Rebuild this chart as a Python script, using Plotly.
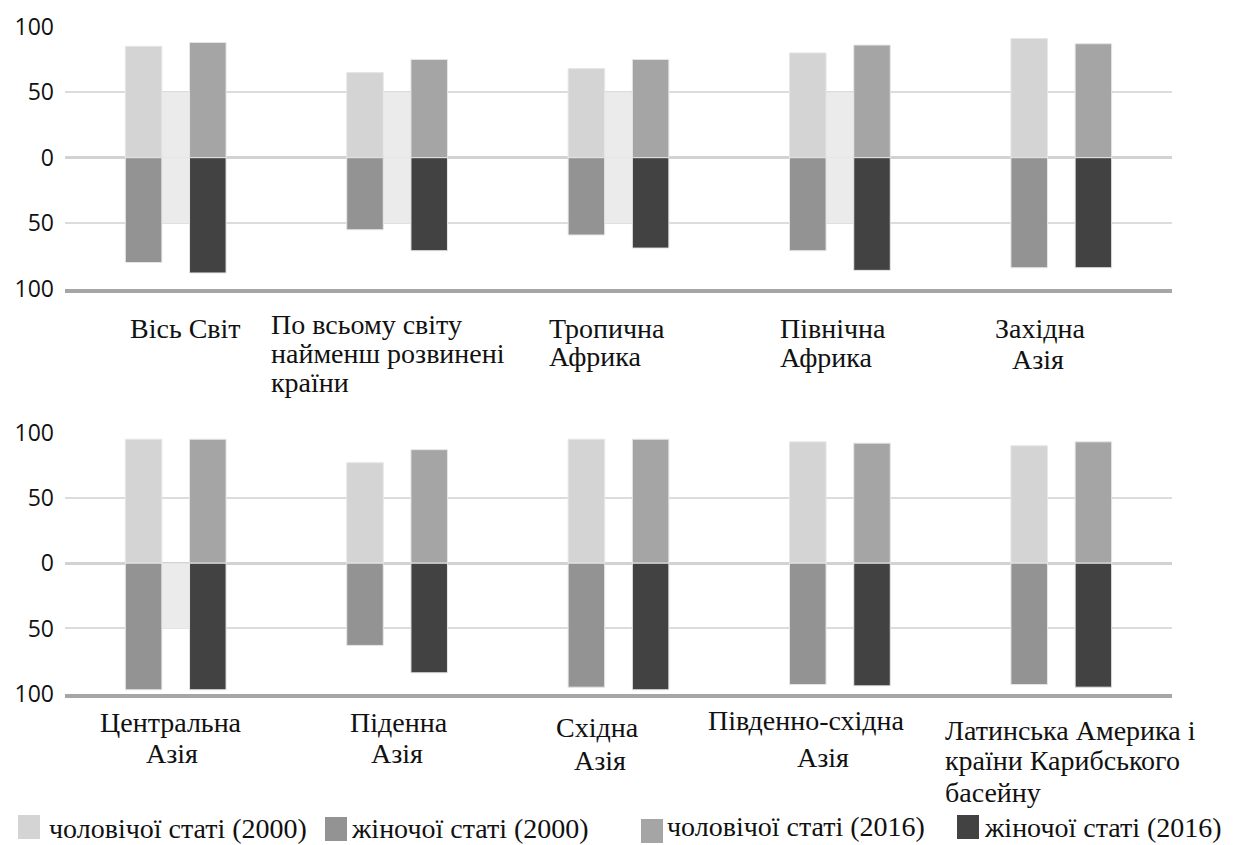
import plotly.graph_objects as go

# --- data -------------------------------------------------------------
regions_top = ["Вісь Світ", "По всьому світу найменш розвинені країни",
               "Тропична Африка", "Північна Африка", "Західна Азія"]
regions_bottom = ["Центральна Азія", "Піденна Азія", "Східна Азія",
                  "Південно-східна Азія", "Латинська Америка і країни Карибського басейну"]

series_names = ["чоловічої статі (2000)", "жіночої статі (2000)",
                "чоловічої статі (2016)", "жіночої статі (2016)"]

male_2000_top = [85, 65, 68, 80, 91]
female_2000_top = [80, 55, 59, 71, 84]
male_2016_top = [88, 75, 75, 86, 87]
female_2016_top = [88, 71, 69, 86, 84]

male_2000_bottom = [95, 77, 95, 93, 90]
female_2000_bottom = [97, 63, 95, 93, 93]
male_2016_bottom = [95, 87, 95, 92, 93]
female_2016_bottom = [97, 84, 97, 94, 95]

# light shading between the paired bars
shade_up_top = [50, 50, 50, 50, 0]
shade_down_top = [50, 50, 50, 50, 0]
shade_up_bottom = [0, 0, 0, 0, 0]
shade_down_bottom = [50, 0, 0, 0, 0]

tick_vals = [-100, -50, 0, 50, 100]
tick_text = ["100", "50", "0", "50", "100"]

# --- styling ----------------------------------------------------------
W, H = 1235, 845
colors = ["#d4d4d4", "#939393", "#a5a5a5", "#424242"]
shade_color = "#ebebeb"
bar_w = 0.165
bar_off = 0.145
serif = "Liberation Serif"
sans = "Open Sans"


def px(x):
    return x / W


def py(y):
    return 1 - y / H


fig = go.Figure()


def add_panel(cats, m00, f00, m16, f16, sh_up, sh_dn, xa, ya):
    common = dict(xaxis=xa, yaxis=ya, showlegend=False, hoverinfo="skip")
    fig.add_bar(x=cats, y=sh_up, width=0.125, offset=-0.0625,
                marker=dict(color=shade_color, line=dict(width=0)), **common)
    fig.add_bar(x=cats, y=[-v for v in sh_dn], width=0.125, offset=-0.0625,
                marker=dict(color=shade_color, line=dict(width=0)), **common)
    line = dict(color="#e6e6e6", width=1)
    fig.add_bar(x=cats, y=m00, width=bar_w, offset=-bar_off - bar_w / 2,
                marker=dict(color=colors[0], line=line), name=series_names[0], **common)
    fig.add_bar(x=cats, y=[-v for v in f00], width=bar_w, offset=-bar_off - bar_w / 2,
                marker=dict(color=colors[1], line=line), name=series_names[1], **common)
    fig.add_bar(x=cats, y=m16, width=bar_w, offset=bar_off - bar_w / 2,
                marker=dict(color=colors[2], line=line), name=series_names[2], **common)
    fig.add_bar(x=cats, y=[-v for v in f16], width=bar_w, offset=bar_off - bar_w / 2,
                marker=dict(color=colors[3], line=line), name=series_names[3], **common)


add_panel(regions_top, male_2000_top, female_2000_top, male_2016_top, female_2016_top,
          shade_up_top, shade_down_top, "x", "y")
add_panel(regions_bottom, male_2000_bottom, female_2000_bottom, male_2016_bottom,
          female_2016_bottom, shade_up_bottom, shade_down_bottom, "x2", "y2")

xdom = [px(65), px(1172)]
xaxis_style = dict(domain=xdom, type="category", range=[-0.5, 4.5], showticklabels=False,
                   showgrid=False, zeroline=False, showline=True, linecolor="#a6a6a6",
                   linewidth=4, ticks="", fixedrange=True, automargin=False)
yaxis_style = dict(range=[-100, 100], tickvals=tick_vals, ticktext=tick_text,
                   showgrid=True, gridcolor="#dcdcdc", gridwidth=2,
                   zeroline=True, zerolinecolor="#d2d2d2", zerolinewidth=3,
                   showline=False, ticks="", ticklabelstandoff=10, automargin=False,
                   tickfont=dict(family=sans, size=23, color="#111111"))

fig.update_layout(
    width=W, height=H,
    margin=dict(l=0, r=0, t=0, b=0, autoexpand=False),
    paper_bgcolor="white", plot_bgcolor="white",
    barmode="overlay",
    xaxis=dict(anchor="y", **xaxis_style),
    yaxis=dict(anchor="x", domain=[py(288.7), py(26.7)], **yaxis_style),
    xaxis2=dict(anchor="y2", **xaxis_style),
    yaxis2=dict(anchor="x2", domain=[py(693.7), py(432.7)], **yaxis_style),
)

# --- category labels (one entry per text line) -------------------------
label_font = dict(family=serif, size=28, color="#111111")
label_lines = [
    ("Вісь Світ", 185, 328, "center"),
    ("По всьому світу", 269, 325, "left"),
    ("найменш розвинені", 269, 353, "left"),
    ("країни", 269, 383, "left"),
    ("Тропична", 547, 328, "left"),
    ("Африка", 547, 356, "left"),
    ("Північна", 778, 328, "left"),
    ("Африка", 778, 357, "left"),
    ("Західна", 1040, 328, "center"),
    ("Азія", 1038, 360, "center"),
    ("Центральна", 171, 722, "center"),
    ("Азія", 172, 753, "center"),
    ("Піденна", 399, 722, "center"),
    ("Азія", 397, 753, "center"),
    ("Східна", 597, 727, "center"),
    ("Азія", 600, 760, "center"),
    ("Південно-східна", 806, 720, "center"),
    ("Азія", 823, 757, "center"),
    ("Латинська Америка і", 943, 730, "left"),
    ("країни Карибського", 943, 760, "left"),
    ("басейну", 943, 792, "left"),
]
for text, x, y, xanchor in label_lines:
    fig.add_annotation(text=text, x=px(x), y=py(y), xref="paper", yref="paper",
                       xanchor=xanchor, yanchor="middle", align=xanchor,
                       showarrow=False, font=label_font)

# --- legend ------------------------------------------------------------
legend_items = [
    (18, 815, 48, 828),
    (325, 817, 350, 828),
    (641, 819, 666, 826),
    (957, 815, 983, 827),
]
for (sx, sy, tx, ty), name, col in zip(legend_items, series_names, colors):
    fig.add_shape(type="rect", xref="paper", yref="paper",
                  x0=px(sx), x1=px(sx + 22), y0=py(sy + 24), y1=py(sy),
                  fillcolor=col, line=dict(width=0))
    fig.add_annotation(text=name, x=px(tx), y=py(ty), xref="paper", yref="paper",
                       xanchor="left", yanchor="middle", showarrow=False,
                       font=label_font, borderpad=0)

fig.write_html("out.html")
